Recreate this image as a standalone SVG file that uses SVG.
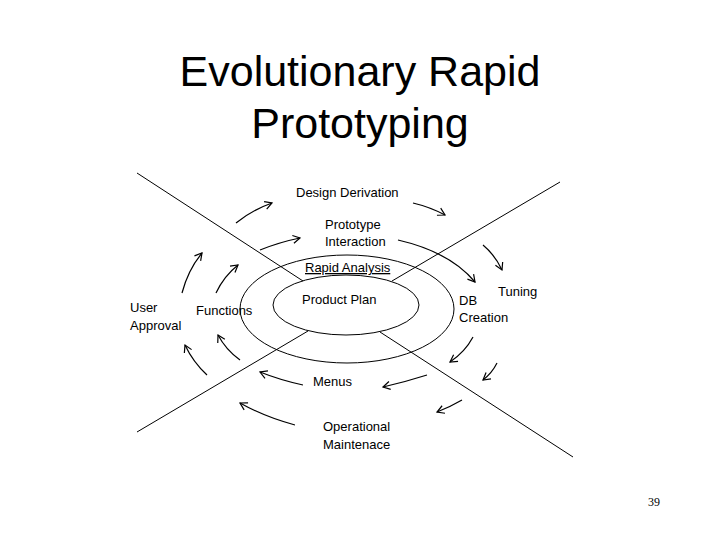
<svg xmlns="http://www.w3.org/2000/svg" width="720" height="540" viewBox="0 0 720 540">
<style>
.l{font-family:"Liberation Sans",Arial,sans-serif;font-size:13px;fill:#000}
.t{font-family:"Liberation Sans",Arial,sans-serif;font-size:43px;fill:#000;text-anchor:middle}
.s{fill:none;stroke:#000;stroke-width:1}
.a{fill:none;stroke:#000;stroke-width:1.2;marker-end:url(#m)}
</style>
<defs><marker id="m" markerWidth="10" markerHeight="10" refX="8" refY="5" orient="auto" markerUnits="userSpaceOnUse"><path d="M1,1 L8,5 L1,9" fill="none" stroke="#000" stroke-width="1.2"/></marker></defs>
<rect width="720" height="540" fill="#fff"/>
<text class="t" x="360" y="86">Evolutionary Rapid</text>
<text class="t" x="360" y="138">Prototyping</text>
<g id="axes">
<line class="s" x1="137" y1="173" x2="303" y2="281"/>
<line class="s" x1="380" y1="332" x2="573" y2="457"/>
<line class="s" x1="560" y1="182" x2="392" y2="281"/>
<line class="s" x1="308" y1="331" x2="137" y2="432"/>
</g>
<g id="outer"><ellipse class="s" cx="347" cy="309" rx="107" ry="54"/></g>
<g id="inner"><ellipse class="s" cx="346" cy="305" rx="73" ry="30"/></g>
<g id="connectors">
<path class="a" d="M236,223 Q252,210 272,203"/>
<path class="a" d="M260,250 Q280,242 300,238"/>
<path class="a" d="M413,203 Q430,207 445,215"/>
<path class="a" d="M398,240 Q450,252 475,282"/>
<path class="a" d="M483,245 Q495,255 502,270"/>
<path class="a" d="M473,337 Q465,352 450,362"/>
<path class="a" d="M497,363 Q492,373 483,380"/>
<path class="a" d="M427,375 Q405,382 383,387"/>
<path class="a" d="M462,400 Q450,407 437,412"/>
<path class="a" d="M303,385 Q280,380 260,372"/>
<path class="a" d="M295,425 Q265,417 240,403"/>
<path class="a" d="M240,360 Q226,350 218,335"/>
<path class="a" d="M207,375 Q193,362 185,345"/>
<path class="a" d="M216,293 Q224,276 238,265"/>
<path class="a" d="M182,293 Q188,270 202,253"/>
</g>
<g id="labels">
<text class="l" x="296" y="197">Design Derivation</text>
<text class="l" x="325" y="229">Prototype</text>
<text class="l" x="325" y="246">Interaction</text>
<text class="l" x="305" y="272" text-decoration="underline">Rapid Analysis</text>
<text class="l" x="302" y="304">Product Plan</text>
<text class="l" x="459" y="305">DB</text>
<text class="l" x="459" y="322">Creation</text>
<text class="l" x="498" y="296">Tuning</text>
<text class="l" x="130" y="312">User</text>
<text class="l" x="130" y="330">Approval</text>
<text class="l" x="196" y="315">Functions</text>
<text class="l" x="313" y="386">Menus</text>
<text class="l" x="323" y="431">Operational</text>
<text class="l" x="323" y="449">Maintenace</text>
</g>
<text x="648" y="506" font-family="Liberation Serif,serif" font-size="12">39</text>
</svg>
